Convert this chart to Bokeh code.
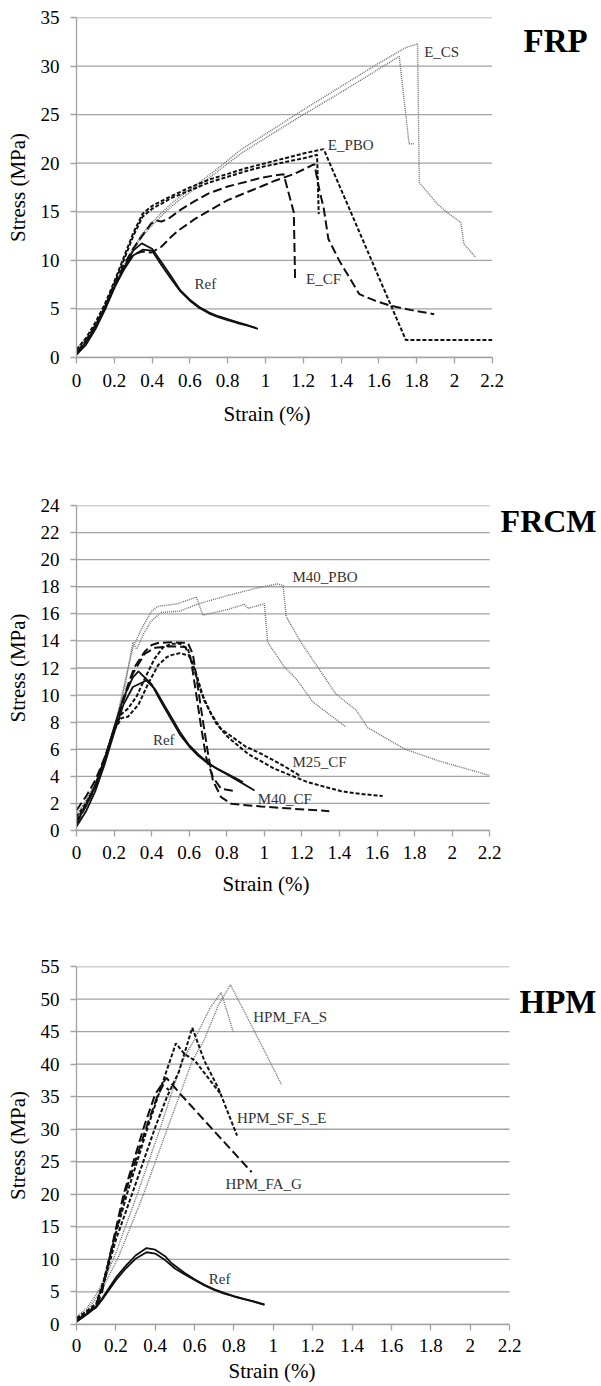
from bokeh.plotting import figure
from bokeh.models import Range1d, FixedTicker, Title
from bokeh.layouts import column
from bokeh.core.properties import value
from bokeh.embed import file_html
from bokeh.resources import INLINE

# ---------------- tick values / labels ----------------
X_TICKS = [0, 0.2, 0.4, 0.6, 0.8, 1.0, 1.2, 1.4, 1.6, 1.8, 2.0, 2.2]
X_TICK_LABELS = ["0", "0.2", "0.4", "0.6", "0.8", "1", "1.2", "1.4", "1.6", "1.8", "2", "2.2"]
FRP_Y_TICKS = [0, 5, 10, 15, 20, 25, 30, 35]
FRCM_Y_TICKS = [0, 2, 4, 6, 8, 10, 12, 14, 16, 18, 20, 22, 24]
HPM_Y_TICKS = [0, 5, 10, 15, 20, 25, 30, 35, 40, 45, 50, 55]
X_TITLE = "Strain (%)"
Y_TITLE = "Stress (MPa)"

# ---------------- FRP panel ----------------
frp_ref1_x = [0, 0.05, 0.1, 0.15, 0.2, 0.25, 0.3, 0.345, 0.4, 0.45, 0.5, 0.55, 0.6, 0.65, 0.7, 0.75, 0.8, 0.85, 0.9, 0.96]
frp_ref1_y = [0.3, 1.3, 2.9, 4.9, 7.2, 9.2, 11.0, 11.75, 11.2, 9.8, 8.4, 6.9, 5.95, 5.2, 4.65, 4.25, 3.95, 3.65, 3.35, 2.95]
frp_ref2_x = [0, 0.05, 0.1, 0.15, 0.2, 0.25, 0.3, 0.35, 0.4, 0.45, 0.5, 0.55, 0.6, 0.65, 0.7, 0.75, 0.8, 0.85, 0.9, 0.95]
frp_ref2_y = [0.3, 1.6, 3.1, 5.0, 7.2, 9.0, 10.5, 11.1, 11.0, 9.5, 8.1, 6.8, 5.85, 5.1, 4.55, 4.15, 3.85, 3.55, 3.3, 3.05]

frp_pbo1_x = [0, 0.05, 0.1, 0.15, 0.2, 0.25, 0.3, 0.35, 0.4, 0.5, 0.6, 0.7, 0.8, 0.9, 1.0, 1.1, 1.2, 1.308, 1.743, 2.2]
frp_pbo1_y = [0.8, 2.0, 3.6, 5.5, 7.8, 10.3, 12.8, 14.8, 15.6, 16.6, 17.5, 18.3, 18.9, 19.5, 20.0, 20.5, 21.0, 21.45, 1.8, 1.8]
frp_pbo2_x = [0, 0.05, 0.1, 0.15, 0.2, 0.25, 0.3, 0.35, 0.4, 0.5, 0.6, 0.7, 0.8, 0.9, 1.0, 1.1, 1.2, 1.273, 1.282]
frp_pbo2_y = [0.5, 1.7, 3.3, 5.2, 7.6, 10.0, 12.5, 14.5, 15.3, 16.4, 17.2, 18.0, 18.6, 19.2, 19.7, 20.1, 20.5, 20.87, 14.76]

frp_cf1_x = [0, 0.05, 0.1, 0.15, 0.2, 0.25, 0.3, 0.35, 0.396, 0.42, 0.449, 0.484, 0.55, 0.625, 0.7, 0.8, 0.9, 0.977, 1.05, 1.096, 1.15, 1.157]
frp_cf1_y = [0.5, 1.7, 3.2, 5.1, 7.4, 9.5, 11.2, 12.6, 13.8, 14.1, 14.0, 14.24, 15.2, 16.1, 16.9, 17.6, 18.1, 18.5, 18.75, 18.87, 14.93, 7.9]
frp_cf2_x = [0, 0.05, 0.1, 0.15, 0.2, 0.25, 0.3, 0.35, 0.396, 0.449, 0.5, 0.537, 0.625, 0.7, 0.8, 0.9, 0.977, 1.05, 1.153, 1.259, 1.286, 1.308, 1.333, 1.391, 1.497, 1.58, 1.664, 1.78, 1.893]
frp_cf2_y = [0.5, 1.6, 3.1, 5.0, 7.3, 9.2, 10.6, 10.9, 10.8, 11.4, 12.4, 13.04, 14.24, 15.1, 16.2, 17.0, 17.6, 18.2, 18.9, 19.9, 17.2, 15.4, 12.2, 9.95, 6.52, 5.85, 5.32, 4.85, 4.46]

frp_cs1_x = [0, 0.05, 0.1, 0.15, 0.2, 0.25, 0.3, 0.35, 0.4, 0.45, 0.5, 0.55, 0.63, 0.75, 0.87, 1.0, 1.2, 1.4, 1.6, 1.708, 1.76, 1.785]
frp_cs1_y = [0.6, 1.8, 3.2, 4.9, 7.0, 9.2, 11.1, 12.5, 13.6, 14.6, 15.5, 16.3, 17.4, 19.2, 21.0, 22.6, 25.0, 27.3, 29.7, 31.0, 22.0, 22.0]
frp_cs2_x = [0, 0.05, 0.1, 0.15, 0.2, 0.25, 0.3, 0.35, 0.4, 0.45, 0.5, 0.55, 0.63, 0.75, 0.87, 1.0, 1.2, 1.4, 1.6, 1.743, 1.805, 1.814, 1.91, 1.97, 2.034, 2.05, 2.113]
frp_cs2_y = [0.9, 2.0, 3.4, 5.1, 7.2, 9.4, 11.3, 12.8, 13.9, 14.9, 15.8, 16.6, 17.7, 19.5, 21.4, 23.0, 25.5, 27.9, 30.3, 31.9, 32.3, 18.0, 15.8, 14.8, 13.9, 11.7, 10.3]

frp_label_text = ["E_CS", "E_PBO", "E_CF", "Ref"]
frp_label_x = [1.84, 1.33, 1.215, 0.625]
frp_label_y = [31.4, 21.9, 8.1, 7.6]

# ---------------- FRCM panel ----------------
frcm_ref1_x = [0, 0.05, 0.1, 0.15, 0.2, 0.25, 0.3, 0.33, 0.4, 0.45, 0.5, 0.55, 0.6, 0.65, 0.7, 0.75, 0.8, 0.886]
frcm_ref1_y = [0.6, 1.8, 3.3, 5.3, 7.6, 9.8, 11.3, 11.75, 10.8, 9.5, 8.3, 7.1, 6.2, 5.5, 4.95, 4.55, 4.2, 3.57]
frcm_ref2_x = [0, 0.05, 0.1, 0.15, 0.2, 0.25, 0.3, 0.372, 0.42, 0.47, 0.5, 0.55, 0.6, 0.65, 0.7, 0.75, 0.8, 0.85, 0.9, 0.948]
frcm_ref2_y = [0.3, 1.4, 2.9, 4.9, 7.2, 9.3, 10.6, 11.08, 10.4, 9.2, 8.5, 7.3, 6.3, 5.6, 5.0, 4.55, 4.15, 3.75, 3.35, 2.96]

frcm_m25a_x = [0, 0.05, 0.1, 0.15, 0.2, 0.24, 0.274, 0.32, 0.363, 0.416, 0.46, 0.505, 0.55, 0.593, 0.62, 0.664, 0.717, 0.77, 0.84, 0.9, 0.983, 1.1, 1.195]
frcm_m25a_y = [0.8, 1.9, 3.3, 5.3, 7.5, 8.6, 9.0, 9.9, 11.2, 12.7, 13.5, 13.8, 13.8, 13.4, 12.2, 10.2, 8.6, 7.5, 6.8, 6.2, 5.67, 4.8, 4.0]
frcm_m25b_x = [0, 0.05, 0.1, 0.15, 0.2, 0.24, 0.274, 0.33, 0.38, 0.434, 0.48, 0.505, 0.55, 0.6, 0.637, 0.68, 0.744, 0.806, 0.912, 1.054, 1.23, 1.41, 1.51, 1.63]
frcm_m25b_y = [1.0, 2.0, 3.3, 5.3, 7.4, 8.3, 8.4, 9.3, 10.8, 12.2, 12.8, 12.95, 13.1, 12.9, 11.6, 9.6, 7.9, 6.9, 5.67, 4.56, 3.57, 2.9, 2.7, 2.55]

frcm_m40a_x = [0, 0.05, 0.1, 0.15, 0.2, 0.24, 0.28, 0.31, 0.363, 0.4, 0.434, 0.5, 0.593, 0.62, 0.646, 0.673, 0.70, 0.726, 0.77, 0.824, 0.983, 1.16, 1.346]
frcm_m40a_y = [1.5, 2.5, 3.7, 5.4, 7.3, 9.3, 11.0, 12.1, 13.2, 13.7, 13.85, 13.9, 13.85, 13.0, 10.6, 8.1, 5.7, 3.7, 2.46, 1.97, 1.77, 1.6, 1.43]
frcm_m40b_x = [0, 0.05, 0.1, 0.15, 0.2, 0.25, 0.3, 0.363, 0.42, 0.5, 0.58, 0.61, 0.637, 0.664, 0.69, 0.726, 0.77, 0.844]
frcm_m40b_y = [0.5, 1.8, 3.2, 5.2, 7.4, 9.6, 11.6, 13.05, 13.5, 13.6, 13.55, 12.56, 10.1, 7.6, 5.4, 3.94, 3.08, 2.9]

frcm_pboa_x = [0, 0.05, 0.1, 0.15, 0.2, 0.26, 0.3, 0.32, 0.36, 0.4, 0.45, 0.55, 0.64, 0.806, 0.983, 1.07, 1.1, 1.116, 1.195, 1.284, 1.38, 1.49, 1.55, 1.745, 1.922, 2.2]
frcm_pboa_y = [0.8, 1.8, 3.2, 5.0, 7.3, 10.8, 13.9, 13.4, 14.6, 15.5, 16.1, 16.2, 16.7, 17.36, 17.98, 18.2, 18.1, 15.8, 13.9, 12.07, 10.1, 8.87, 7.6, 6.03, 5.17, 4.06]
frcm_pbob_x = [0, 0.05, 0.1, 0.15, 0.2, 0.25, 0.3, 0.35, 0.4, 0.434, 0.54, 0.638, 0.673, 0.8, 0.894, 0.912, 1.0, 1.018, 1.107, 1.17, 1.258, 1.435]
frcm_pbob_y = [1.2, 2.2, 3.5, 5.3, 7.5, 10.5, 13.5, 15.0, 16.2, 16.55, 16.75, 17.24, 15.9, 16.3, 16.7, 16.4, 16.75, 13.9, 12.07, 11.2, 9.5, 7.64]

frcm_label_text = ["M40_PBO", "M25_CF", "M40_CF", "Ref"]
frcm_label_x = [1.15, 1.15, 0.965, 0.407]
frcm_label_y = [18.7, 5.05, 2.34, 6.65]

# ---------------- HPM panel ----------------
hpm_ref1_x = [0, 0.05, 0.1, 0.13, 0.2, 0.25, 0.3, 0.356, 0.4, 0.45, 0.48, 0.55, 0.6, 0.65, 0.7, 0.75, 0.8, 0.85, 0.9, 0.955]
hpm_ref1_y = [0.4, 1.5, 2.8, 4.0, 7.2, 9.0, 10.6, 11.75, 11.5, 10.5, 9.5, 7.9, 6.95, 6.1, 5.4, 4.85, 4.35, 3.95, 3.55, 3.1]
hpm_ref2_x = [0, 0.05, 0.1, 0.13, 0.2, 0.25, 0.3, 0.356, 0.4, 0.45, 0.5, 0.55, 0.6, 0.65, 0.7, 0.75, 0.8, 0.85, 0.9, 0.955]
hpm_ref2_y = [0.6, 1.6, 2.6, 3.8, 6.8, 8.6, 10.1, 11.1, 10.9, 9.9, 8.6, 7.7, 6.85, 6.0, 5.3, 4.75, 4.3, 3.9, 3.5, 3.0]

hpm_fas1_x = [0, 0.05, 0.1, 0.15, 0.2, 0.31, 0.427, 0.537, 0.596, 0.68, 0.735, 0.796]
hpm_fas1_y = [1.2, 2.4, 4.6, 7.4, 11.0, 20.1, 30.3, 40.5, 43.6, 48.7, 51.0, 45.0]
hpm_fas2_x = [0, 0.05, 0.1, 0.15, 0.215, 0.342, 0.464, 0.588, 0.647, 0.72, 0.782, 0.9, 1.041]
hpm_fas2_y = [0.8, 2.0, 4.0, 6.6, 10.5, 20.1, 30.3, 40.5, 43.6, 49.0, 52.2, 45.3, 36.9]

hpm_se1_x = [0, 0.05, 0.1, 0.14, 0.2, 0.283, 0.4, 0.46, 0.52, 0.588, 0.65, 0.722, 0.816]
hpm_se1_y = [0.8, 1.8, 3.0, 6.5, 13.0, 20.1, 30.3, 35.0, 38.8, 45.6, 40.5, 36.2, 29.0]
hpm_se2_x = [0, 0.05, 0.1, 0.14, 0.2, 0.257, 0.362, 0.43, 0.505, 0.55, 0.6, 0.73]
hpm_se2_y = [1.0, 2.0, 3.2, 7.0, 14.0, 20.1, 30.3, 36.5, 43.2, 41.5, 40.6, 35.5]

hpm_fag1_x = [0, 0.05, 0.1, 0.13, 0.18, 0.24, 0.342, 0.4, 0.457, 0.528, 0.89]
hpm_fag1_y = [0.5, 1.5, 2.8, 5.0, 12.0, 20.1, 30.3, 35.4, 37.9, 35.4, 23.4]
hpm_fag2_x = [0, 0.05, 0.1, 0.13, 0.19, 0.25, 0.355, 0.41, 0.44, 0.47]
hpm_fag2_y = [0.7, 1.6, 3.0, 5.5, 13.0, 20.5, 30.3, 35.0, 36.8, 36.0]

hpm_label_text = ["HPM_FA_S", "HPM_SF_S_E", "HPM_FA_G", "Ref"]
hpm_label_x = [0.898, 0.816, 0.757, 0.672]
hpm_label_y = [47.2, 31.7, 21.6, 7.0]

PANEL_NAMES = ["FRP", "FRCM", "HPM"]

# ---------------- styling ----------------
SERIF = "Liberation Serif"
GRID = "#a3a3a3"
STYLE_SOLID = dict(line_color="#111111", line_width=1.8)
STYLE_SHORT = dict(line_color="#111111", line_width=2.0, line_dash="4 2")
STYLE_LONG = dict(line_color="#111111", line_width=2.0, line_dash="9 4")
STYLE_DOT = dict(line_color="#6e6e6e", line_width=1.4, line_dash="1 1")


def make_panel(height, frame_left, frame_top, frame_bottom, px_at_22, ymax, yticks,
               tick_standoff, title_standoff, title_offset):
    # frame spans from frame_left to the right edge of the 601px page
    width = 601
    x_end = 2.2 * (width - frame_left) / (px_at_22 - frame_left)
    p = figure(width=width, height=height, x_range=Range1d(0, x_end), y_range=Range1d(0, ymax),
               output_backend="svg", toolbar_location=None,
               min_border_left=frame_left, min_border_right=0,
               min_border_top=frame_top, min_border_bottom=height - frame_bottom)
    p.outline_line_color = None
    p.xgrid.visible = False
    p.ygrid.visible = False
    n = len(yticks)
    p.segment(x0=[X_TICKS[0]] * n, x1=[X_TICKS[-1]] * n, y0=yticks, y1=yticks,
              line_color=GRID, line_width=1.3, level="underlay")
    p.xaxis.ticker = FixedTicker(ticks=X_TICKS)
    p.xaxis.major_label_overrides = {t: l for t, l in zip(X_TICKS, X_TICK_LABELS)}
    p.xaxis.bounds = (X_TICKS[0], X_TICKS[-1])
    p.yaxis.ticker = FixedTicker(ticks=yticks)
    p.yaxis.major_label_overrides = {t: str(t) for t in yticks}
    p.axis.axis_line_color = GRID
    p.axis.axis_line_width = 1.3
    p.axis.major_tick_line_color = GRID
    p.axis.major_tick_line_width = 1.3
    p.axis.major_tick_in = 0
    p.axis.major_tick_out = 6
    p.axis.minor_tick_line_color = None
    p.axis.major_label_text_font = SERIF
    p.axis.major_label_text_font_size = "19px"
    p.axis.major_label_text_color = "black"
    p.yaxis.axis_label_text_font = SERIF
    p.yaxis.axis_label_text_font_size = "21px"
    p.yaxis.axis_label_text_font_style = "normal"
    p.yaxis.axis_label_text_color = "black"
    p.yaxis.axis_label = Y_TITLE
    p.xaxis.major_label_standoff = tick_standoff
    p.yaxis.major_label_standoff = 11
    p.yaxis.axis_label_standoff = 8
    # x title: placed below the axis, positioned over the 0-2.2 part of the frame
    p.add_layout(Title(text=X_TITLE, align="left", offset=title_offset, standoff=title_standoff,
                       text_font=SERIF, text_font_size="21px", text_font_style="normal",
                       text_color="black"), "below")
    return p


def add_labels(p, xs, ys, texts):
    p.text(x=xs, y=ys, text=texts, text_font=value(SERIF), text_font_size="15px",
           text_color="#333333", text_align="left", text_baseline="middle")


def add_name(p, x, y, name, size):
    p.text(x=[x], y=[y], text=[name], text_font=value(SERIF), text_font_size=size,
           text_font_style="bold", text_color="black", text_align="left",
           text_baseline="alphabetic")


# FRP  (page rows 0-440)
p1 = make_panel(440, 75, 17, 357, 491.5, 35, FRP_Y_TICKS, 10, 20, 147)
p1.line(frp_cs1_x, frp_cs1_y, **STYLE_DOT)
p1.line(frp_cs2_x, frp_cs2_y, **STYLE_DOT)
p1.line(frp_ref1_x, frp_ref1_y, **STYLE_SOLID)
p1.line(frp_ref2_x, frp_ref2_y, **STYLE_SOLID)
p1.line(frp_pbo1_x, frp_pbo1_y, **STYLE_SHORT)
p1.line(frp_pbo2_x, frp_pbo2_y, **STYLE_SHORT)
p1.line(frp_cf1_x, frp_cf1_y, **STYLE_LONG)
p1.line(frp_cf2_x, frp_cf2_y, **STYLE_LONG)
add_labels(p1, frp_label_x, frp_label_y, frp_label_text)
add_name(p1, 2.366, 32.63, PANEL_NAMES[0], "33px")

# FRCM (page rows 440-905)
p2 = make_panel(465, 75, 65, 390, 489, 24, FRCM_Y_TICKS, 9, 17, 146)
p2.line(frcm_pboa_x, frcm_pboa_y, **STYLE_DOT)
p2.line(frcm_pbob_x, frcm_pbob_y, **STYLE_DOT)
p2.line(frcm_ref1_x, frcm_ref1_y, **STYLE_SOLID)
p2.line(frcm_ref2_x, frcm_ref2_y, **STYLE_SOLID)
p2.line(frcm_m25a_x, frcm_m25a_y, **STYLE_SHORT)
p2.line(frcm_m25b_x, frcm_m25b_y, **STYLE_SHORT)
p2.line(frcm_m40a_x, frcm_m40a_y, **STYLE_LONG)
p2.line(frcm_m40b_x, frcm_m40b_y, **STYLE_LONG)
add_labels(p2, frcm_label_x, frcm_label_y, frcm_label_text)
add_name(p2, 2.258, 22.89, PANEL_NAMES[1], "32px")

# HPM (page rows 905-1385)
p3 = make_panel(480, 76, 61, 419, 509, 55, HPM_Y_TICKS, 8, 5, 152)
p3.line(hpm_fas1_x, hpm_fas1_y, **STYLE_DOT)
p3.line(hpm_fas2_x, hpm_fas2_y, **STYLE_DOT)
p3.line(hpm_ref1_x, hpm_ref1_y, **STYLE_SOLID)
p3.line(hpm_ref2_x, hpm_ref2_y, **STYLE_SOLID)
p3.line(hpm_se1_x, hpm_se1_y, **STYLE_SHORT)
p3.line(hpm_se2_x, hpm_se2_y, **STYLE_SHORT)
p3.line(hpm_fag1_x, hpm_fag1_y, **STYLE_LONG)
p3.line(hpm_fag2_x, hpm_fag2_y, **STYLE_LONG)
add_labels(p3, hpm_label_x, hpm_label_y, hpm_label_text)
add_name(p3, 2.251, 49.47, PANEL_NAMES[2], "33px")

layout = column(p1, p2, p3)
open("out.html", "w").write(file_html(layout, INLINE))
